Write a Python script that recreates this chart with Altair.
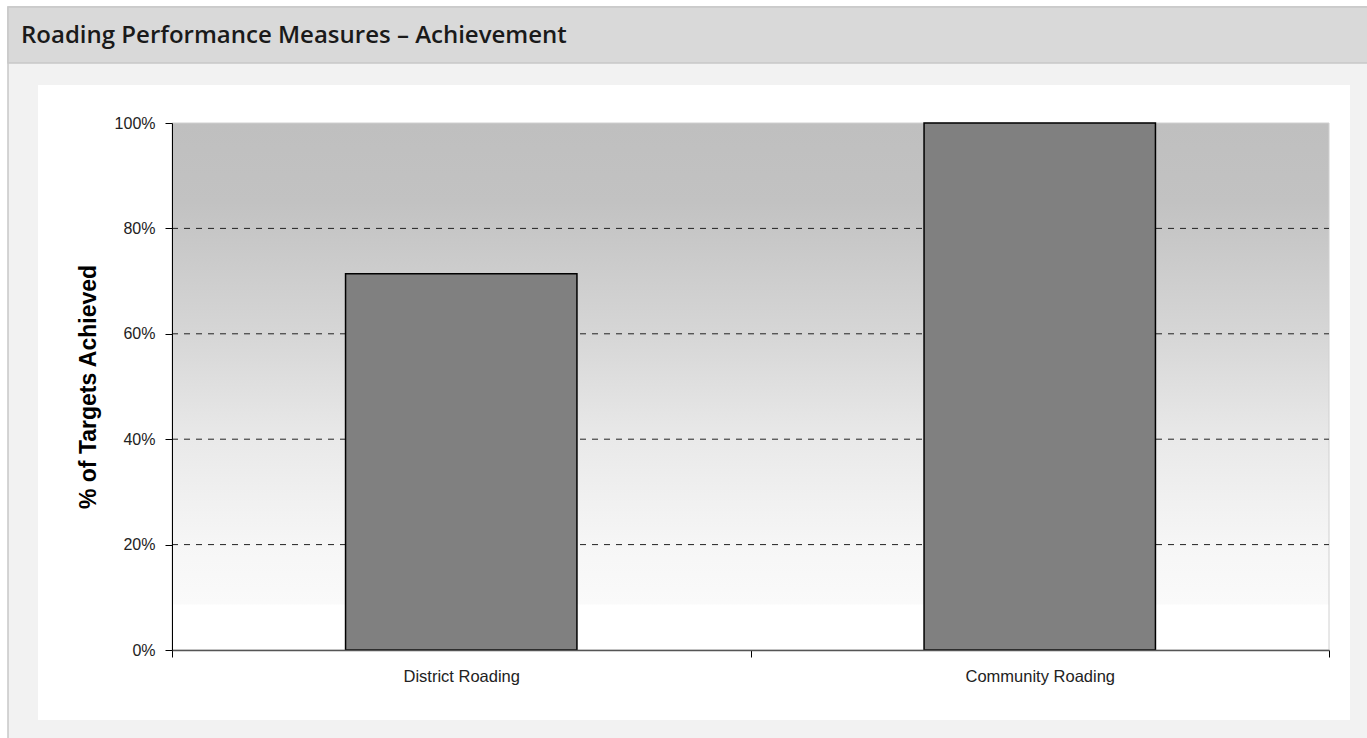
import altair as alt
import pandas as pd

categories = ["District Roading", "Community Roading"]
achieved = [71.4, 100.0]
grid_levels = [20, 40, 60, 80]
title_text = "Roading Performance Measures \u2013 Achievement"

W, H = 1157, 527
PL, PT, PR, PB = 172, 123, 38, 88

bars_df = pd.DataFrame({"category": categories, "value": achieved})
grid_df = pd.DataFrame({"level": grid_levels})
one = pd.DataFrame({"k": [0]})

xscale = alt.Scale(domain=categories, paddingInner=0, paddingOuter=0)
yscale = alt.Scale(domain=[0, 100], nice=False)

outer = alt.Chart(one).mark_rect(fill="#f2f2f2", stroke="#c8c8c8", strokeWidth=1.5, clip=False).encode(
    x=alt.value(8 - PL), x2=alt.value(W + PR + 20), y=alt.value(7 - PT), y2=alt.value(H + PB + 20))
header = alt.Chart(one).mark_rect(fill="#d9d9d9", stroke="#c8c8c8", strokeWidth=1.5, clip=False).encode(
    x=alt.value(8 - PL), x2=alt.value(W + PR + 20), y=alt.value(7 - PT), y2=alt.value(63 - PT))
panel = alt.Chart(one).mark_rect(fill="#ffffff", clip=False).encode(
    x=alt.value(38 - PL), x2=alt.value(1350 - PL), y=alt.value(85 - PT), y2=alt.value(720 - PT))
title = alt.Chart(one).mark_text(text=title_text, align="left", baseline="middle", font="Open Sans",
                                 fontSize=24, fontWeight=600, color="#1a1a1a", clip=False).encode(
    x=alt.value(21 - PL), y=alt.value(36 - PT))

grad = alt.Gradient(gradient="linear", x1=0, x2=0, y1=0, y2=1, stops=[
    alt.GradientStop(offset=0, color="#bfbfbf"),
    alt.GradientStop(offset=0.15, color="#c2c2c2"),
    alt.GradientStop(offset=0.4, color="#d6d6d6"),
    alt.GradientStop(offset=0.6, color="#e9e9e9"),
    alt.GradientStop(offset=0.8, color="#f6f6f6"),
    alt.GradientStop(offset=0.912, color="#fafafa"),
    alt.GradientStop(offset=0.915, color="#ffffff"),
    alt.GradientStop(offset=1, color="#ffffff"),
])
plotbg = alt.Chart(one).mark_rect(fill=grad, stroke="#d0d0d0", strokeWidth=1).encode(
    x=alt.value(0), x2=alt.value(W), y=alt.value(0), y2=alt.value(H))

gridlines = alt.Chart(grid_df).mark_rule(color="#222222", strokeWidth=1, strokeDash=[6, 6]).encode(
    y=alt.Y("level:Q", scale=yscale), x=alt.value(0), x2=alt.value(W))

bars = alt.Chart(bars_df).mark_bar(fill="#808080", stroke="#000000", strokeWidth=1.5,
                                   width=alt.RelativeBandSize(0.4)).encode(
    x=alt.X("category:N", scale=xscale, sort=categories,
            axis=alt.Axis(title=None, tickBand="extent", tickSize=7, tickColor="#000000",
                          domainColor="#555555", domainWidth=1.5, labelAngle=0, labelPadding=11,
                          labelFont="Liberation Sans", labelFontSize=16.5, labelColor="#222222",
                          zindex=1)),
    y=alt.Y("value:Q", scale=yscale,
            axis=alt.Axis(title="% of Targets Achieved", values=[0, 20, 40, 60, 80, 100],
                          labelExpr="datum.value + '%'", grid=False, tickSize=7,
                          tickColor="#000000", domainColor="#000000", labelPadding=10,
                          labelFont="Liberation Sans", labelFontSize=16, labelColor="#222222",
                          titleFont="Liberation Sans", titleFontSize=23, titleFontWeight="bold",
                          titleColor="#000000", titleAngle=270, titleX=-84, titleY=H / 2,
                          titleAlign="center", titleBaseline="middle", zindex=1)),
)

chart = alt.layer(outer, header, panel, title, plotbg, gridlines, bars).properties(
    width=W, height=H,
    autosize=alt.AutoSizeParams(type="none"),
    padding={"left": PL, "top": PT, "right": PR, "bottom": PB},
    background="#ffffff",
).configure_view(stroke=None)

chart.save("out.html", embed_options={"renderer": "svg", "actions": False})
